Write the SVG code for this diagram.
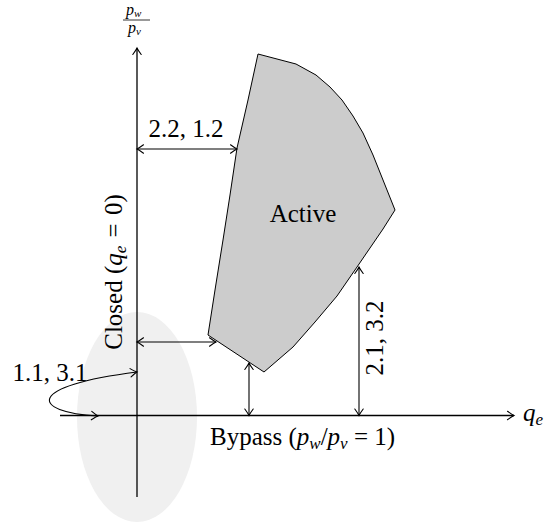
<svg xmlns="http://www.w3.org/2000/svg" width="546" height="527" viewBox="0 0 546 527">
<style>
text { font-family: "Liberation Serif", serif; font-size: 25px; fill: #000; }
.it { font-style: italic; }
.sub { font-size: 17px; font-style: italic; }
.frac { font-size: 16px; font-style: italic; }
.fsub { font-size: 11px; font-style: italic; }
.ln { stroke: #000; stroke-width: 1.1; fill: none; }
.ax { stroke: #000; stroke-width: 1.3; fill: none; }
</style>
<defs>
<marker id="to" markerUnits="userSpaceOnUse" viewBox="-8 -6 10 12" refX="0" refY="0" markerWidth="10" markerHeight="12" orient="auto-start-reverse">
<path d="M -6.5 -4.2 Q -2 -0.9 0 0 Q -2 0.9 -6.5 4.2" stroke="#000" stroke-width="1.1" fill="none" stroke-linecap="round"/>
</marker>
</defs>
<g id="bypass-region">
<ellipse cx="137" cy="417" rx="60" ry="105" fill="#f0f0f0"/>
</g>
<g id="active">
<polygon points="258,54 296,64 316,75 330,87 342,100 353,116 363,133 373,155 383,180 395,210 383,229 370,248 357,267 337,296 315,322 293,347 264,372 208,335 215,290 223,240 230,195 237,148 248,100" fill="#cccccc" stroke="#000" stroke-width="1"/>
<text x="303" y="222" text-anchor="middle">Active</text>
</g>
<g id="axes">
<line class="ax" x1="60" y1="415.5" x2="514" y2="415.5" marker-end="url(#to)"/>
<line class="ax" x1="137" y1="497" x2="137" y2="48" marker-end="url(#to)"/>
</g>
<g id="axis-labels">
<text x="523" y="421" class="it">q<tspan class="sub" dy="4">e</tspan></text>
<text x="126" y="15" class="frac">p<tspan class="fsub" dy="2">w</tspan></text>
<line x1="123" y1="20" x2="150" y2="20" stroke="#000" stroke-width="0.8"/>
<text x="128" y="33" class="frac">p<tspan class="fsub" dy="2">v</tspan></text>
</g>
<g id="connectors">
<line class="ln" x1="137" y1="149" x2="237" y2="149" marker-start="url(#to)" marker-end="url(#to)"/>
<line class="ln" x1="137" y1="342" x2="216" y2="342" marker-start="url(#to)" marker-end="url(#to)"/>
<line class="ln" x1="249" y1="363" x2="249" y2="415.5" marker-start="url(#to)" marker-end="url(#to)"/>
<line class="ln" x1="359" y1="267" x2="359" y2="415.5" marker-start="url(#to)" marker-end="url(#to)"/>
<path class="ln" d="M 98 416 C 30 412, 25 386, 137 372" marker-start="url(#to)" marker-end="url(#to)"/>
</g>
<g id="labels">
<text x="186" y="137" text-anchor="middle">2.2, 1.2</text>
<text transform="translate(383,338) rotate(-90)" text-anchor="middle">2.1, 3.2</text>
<text x="50" y="381" text-anchor="middle">1.1, 3.1</text>
<text transform="translate(122,272) rotate(-90)" text-anchor="middle">Closed (<tspan class="it">q</tspan><tspan class="sub" dy="4">e</tspan><tspan dy="-4" dx="2"> = </tspan><tspan dx="2">0)</tspan></text>
<text x="210" y="445">Bypass (<tspan class="it">p</tspan><tspan class="sub" dy="4">w</tspan><tspan dy="-4">/</tspan><tspan class="it">p</tspan><tspan class="sub" dy="4">v</tspan><tspan dy="-4"> = </tspan>1)</text>
</g>
</svg>
